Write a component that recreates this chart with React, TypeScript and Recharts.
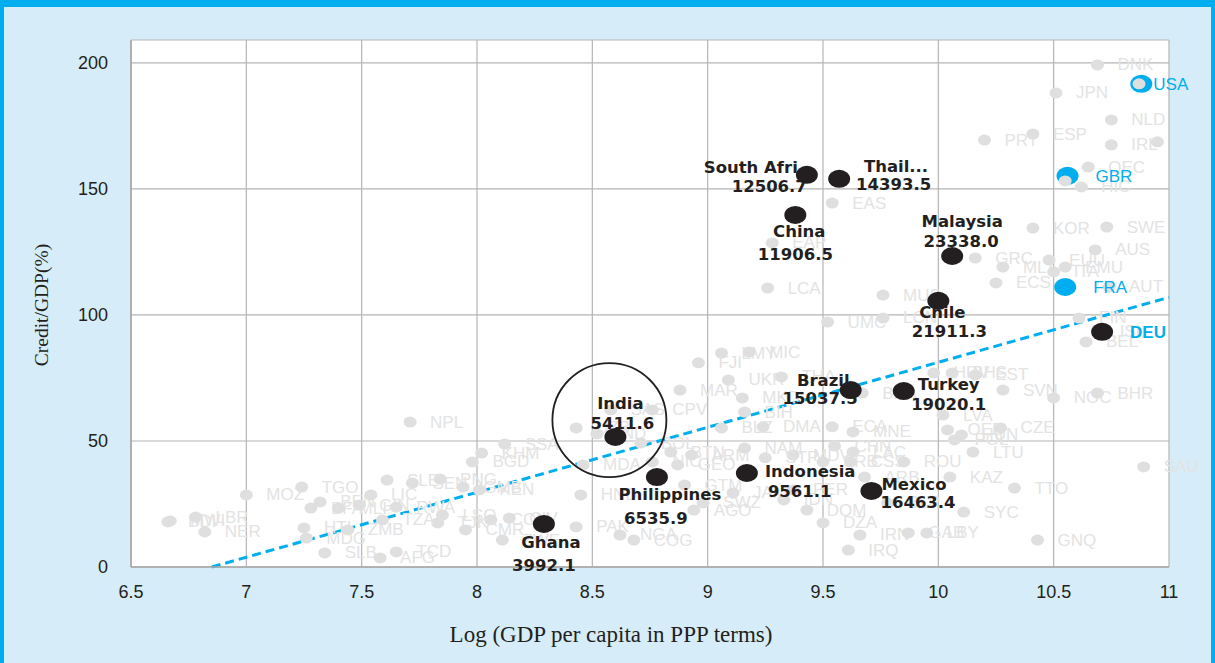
import React from 'react';
import {
  ScatterChart,
  Scatter,
  XAxis,
  YAxis,
  CartesianGrid,
  ReferenceLine,
  ReferenceDot,
} from 'recharts';

// ---------- axes ----------
const xTicks = [6.5, 7, 7.5, 8, 8.5, 9, 9.5, 10, 10.5, 11];
const yTicks = [0, 50, 100, 150, 200];
const X_MIN = 6.5;
const X_MAX = 11;
const Y_MAX = 209.1;

// ---------- grey background countries / aggregates ----------
const grayNames = [
  'BDI', 'MWI', 'LBR', 'NER', 'MOZ', 'TGO', 'BFA', 'BEN', 'MLI', 'HTI',
  'MDG', 'ZMB', 'GIN', 'LIC', 'SLE', 'RWA', 'SEN', 'PNG', 'TJK', 'LSO',
  'TZA', 'SLB', 'AFG', 'TCD', 'KHM', 'BGD', 'SSA', 'GMB', 'KEN', 'COM',
  'CMR', 'CIV', 'ZWE', 'PAK', 'HND', 'UZB', 'MDA', 'IND', 'SAS', 'NGA',
  'COG', 'BOL', 'CPV', 'NIC', 'GEO', 'BTN', 'ARM', 'GTM', 'AGO', 'SWZ',
  'JAM', 'FJI', 'LMY', 'MIC', 'UKR', 'MAR', 'MKD', 'BIH', 'BLZ', 'DMA',
  'THA', 'ECA', 'MNE', 'CHN', 'LAC', 'NAM', 'MDV', 'SRB', 'CSS', 'STP',
  'ARB', 'PER', 'DOM', 'IDN', 'DZA', 'IRN', 'IRQ', 'BLR', 'BRA', 'ROU',
  'HRV', 'BHS', 'EST', 'SVN', 'NOC', 'BHR', 'LVA', 'OED', 'HUN', 'POL',
  'CZE', 'LTU', 'KAZ', 'TTO', 'SYC', 'GAB', 'LBY', 'GNQ', 'SAU', 'DNK',
  'JPN', 'NLD', 'IRL', '', 'PRT', 'ESP', 'OEC', 'HIC', '', '',
  'EAS', 'EAP', 'LCA', 'MUS', 'UMC', 'LCN', 'KOR', 'SWE', 'AUS', 'GRC',
  'MLT', 'EUU', 'ITA', 'EMU', 'ECS', 'AUT', 'FIN', 'ISL', 'BEL', 'NPL',
];
const grayX = [
  6.66, 6.67, 6.78, 6.82, 7.0, 7.24, 7.28, 7.32, 7.4, 7.25,
  7.26, 7.44, 7.49, 7.54, 7.61, 7.65, 7.72, 7.84, 7.83, 7.85,
  7.59, 7.34, 7.58, 7.65, 8.02, 7.98, 8.12, 7.94, 8.01, 8.06,
  7.95, 8.14, 8.11, 8.43, 8.45, 8.43, 8.46, 8.52, 8.58, 8.62,
  8.68, 8.71, 8.76, 8.76, 8.87, 8.84, 8.93, 8.9, 8.94, 8.98,
  9.11, 8.96, 9.06, 9.18, 9.09, 8.88, 9.15, 9.16, 9.06, 9.24,
  9.32, 9.54, 9.63, 9.55, 9.63, 9.16, 9.37, 9.5, 9.62, 9.25,
  9.68, 9.37, 9.43, 9.33, 9.5, 9.66, 9.61, 9.78, 9.67, 9.85,
  9.98, 10.06, 10.16, 10.28, 10.5, 10.69, 10.02, 10.04, 10.1, 10.07,
  10.27, 10.15, 10.05, 10.33, 10.11, 9.87, 9.95, 10.43, 10.89, 10.69,
  10.51, 10.75, 10.75, 10.95, 10.2, 10.41, 10.65, 10.62, 10.55, 10.87,
  9.54, 9.28, 9.26, 9.76, 9.52, 9.76, 10.41, 10.73, 10.68, 10.16,
  10.28, 10.48, 10.5, 10.55, 10.25, 10.74, 10.61, 10.7, 10.64, 7.71,
];
const grayY = [
  17.9, 18.3, 19.8, 13.9, 28.6, 31.7, 23.4, 25.8, 23.4, 15.5,
  11.5, 14.7, 24.6, 28.6, 34.5, 23.8, 33.3, 34.9, 17.5, 20.6,
  18.7, 5.6, 3.6, 6.0, 45.2, 41.7, 48.8, 31.7, 30.6, 18.7,
  14.7, 19.4, 10.7, 15.9, 28.6, 55.2, 40.5, 52.8, 62.3, 12.7,
  10.7, 49.2, 62.3, 41.7, 40.5, 45.6, 44.4, 32.5, 22.6, 25.4,
  29.4, 81.0, 84.9, 85.3, 74.2, 70.2, 67.1, 61.5, 55.2, 55.6,
  75.4, 55.6, 53.6, 48.0, 45.6, 47.2, 44.4, 41.7, 41.7, 43.3,
  35.7, 30.6, 22.6, 26.6, 17.5, 12.7, 6.7, 25.4, 69.0, 41.7,
  77.0, 77.0, 76.2, 70.2, 67.1, 69.0, 60.3, 54.4, 52.4, 50.4,
  55.2, 45.6, 35.7, 31.3, 21.8, 13.5, 13.5, 10.7, 39.7, 199.2,
  188.1, 177.4, 167.5, 168.7, 169.4, 171.8, 158.7, 150.8, 153.2, 191.7,
  144.4, 128.6, 110.7, 107.9, 97.2, 98.8, 134.5, 134.9, 125.8, 122.6,
  119.0, 121.8, 117.1, 119.0, 112.7, 111.1, 98.8, 93.3, 89.3, 57.5,
];

// ---------- highlighted emerging economies ----------
const focusNames = [
  'India', 'Ghana', 'Philippines', 'Indonesia', 'Mexico', 'Brazil',
  'Turkey', 'Chile', 'Malaysia', 'China', 'South Afri', 'Thail...',
];
const focusGdp = [
  '5411.6', '3992.1', '6535.9', '9561.1', '16463.4', '15037.5',
  '19020.1', '21911.3', '23338.0', '11906.5', '12506.7', '14393.5',
];
const focusX = [8.6, 8.29, 8.78, 9.17, 9.71, 9.62, 9.85, 10.0, 10.06, 9.38, 9.43, 9.57];
const focusY = [51.6, 17.1, 35.7, 37.3, 30.2, 70.2, 69.8, 105.6, 123.4, 139.7, 155.6, 154.0];

// ---------- advanced economies (blue labels) ----------
const advNames = ['USA', 'GBR', 'FRA', 'DEU'];
const advX = [10.88, 10.56, 10.55, 10.71];
const advY = [191.7, 155.2, 111.1, 93.3];

// ---------- trend line & India circle ----------
const trendX = [6.85, 11];
const trendY = [0, 107];
const circleX = 8.574;
const circleY = 58.3;

// ---------- styling (not data) ----------
const BLACK = '#231f20';
const BLUE = '#00aeef';
const GREY_DOT = '#dfdfdf';
const GREY_TXT = '#e3e3e3';

// label placement for the highlighted points: [anchor, dx1, dy1, dx2, dy2]
const focusLabelPos: Record<string, [string, number, number, number, number]> = {
  India: ['middle', 5, -33, 7, -13],
  Ghana: ['middle', 7, 19, 0, 42],
  Philippines: ['middle', 13, 17, -1, 41],
  Indonesia: ['start', 18, -1, 21, 19],
  Mexico: ['start', 10, -6, 9, 12],
  Brazil: ['end', -1, -10, 7, 8],
  Turkey: ['middle', 45, -7, 45, 13],
  Chile: ['middle', 4, 12, 11, 31],
  Malaysia: ['middle', 10, -34, 9, -14],
  China: ['middle', 4, 17, 0, 40],
  'South Afri': ['end', -9, -7, 0, 12],
  'Thail...': ['end', 89, -12, 92, 6],
};

const grayData = grayNames.map((name, i) => ({ name, x: grayX[i], y: grayY[i] }));
const focusData = focusNames.map((name, i) => ({ name, gdp: focusGdp[i], x: focusX[i], y: focusY[i] }));
const advData = advNames.map((name, i) => ({ name, x: advX[i], y: advY[i] }));

const GrayShape = (p: any) => {
  const { cx, cy, payload } = p;
  if (cx == null || cy == null) return <g />;
  return (
    <g>
      <ellipse cx={cx} cy={cy} rx={6.5} ry={5.5} fill={GREY_DOT} />
      {payload.name ? (
        <text
          x={cx + 20}
          y={cy}
          dominantBaseline="central"
          fontSize={17}
          fill={GREY_TXT}
          fontFamily="'Liberation Sans', Arial, sans-serif"
        >
          {payload.name}
        </text>
      ) : null}
    </g>
  );
};

const FocusShape = (p: any) => {
  const { cx, cy, payload } = p;
  if (cx == null || cy == null) return <g />;
  const pos = focusLabelPos[payload.name] || ['start', 14, -9, 14, 10];
  const common = {
    fontSize: 16.5,
    fontWeight: 700,
    fill: BLACK,
    fontFamily: "'DejaVu Sans', Verdana, sans-serif",
    dominantBaseline: 'central' as any,
    textAnchor: pos[0] as any,
  };
  return (
    <g>
      <ellipse cx={cx} cy={cy} rx={11} ry={9} fill={BLACK} />
      <text x={cx + pos[1]} y={cy + pos[2]} {...common}>
        {payload.name}
      </text>
      <text x={cx + pos[3]} y={cy + pos[4]} {...common}>
        {payload.gdp}
      </text>
    </g>
  );
};

// blue dots drawn beneath the grey layer (grey markers sit on USA / GBR)
const AdvDot = (p: any) => {
  const { cx, cy, payload } = p;
  if (cx == null || cy == null || payload.name === 'DEU') return <g />;
  return <ellipse cx={cx} cy={cy} rx={11} ry={9} fill={BLUE} />;
};

// labels (and the dark DEU marker) drawn on top
const AdvLabel = (p: any) => {
  const { cx, cy, payload } = p;
  if (cx == null || cy == null) return <g />;
  const isDeu = payload.name === 'DEU';
  const dx = payload.name === 'USA' ? 12 : 28;
  return (
    <g>
      {isDeu ? <ellipse cx={cx} cy={cy} rx={11} ry={9} fill={BLACK} /> : null}
      <text
        x={cx + dx}
        y={cy + 1}
        dominantBaseline="central"
        fontSize={17}
        fontWeight={isDeu ? 700 : 400}
        fill={BLUE}
        fontFamily="'Liberation Sans', Arial, sans-serif"
      >
        {payload.name}
      </text>
    </g>
  );
};

const tickStyle = {
  fill: BLACK,
  fontSize: 18,
  fontFamily: "'Liberation Sans', Arial, sans-serif",
};

export default function App() {
  return (
    <div
      style={{
        position: 'absolute',
        left: 0,
        top: 0,
        width: 1215,
        height: 663,
        background: '#d6edf9',
        overflow: 'hidden',
      }}
    >
      <div style={{ position: 'absolute', left: 0, top: 0, width: 1215, height: 7, background: BLUE }} />
      <div style={{ position: 'absolute', left: 0, top: 0, width: 4, height: 663, background: BLUE }} />
      <div style={{ position: 'absolute', right: 0, top: 0, width: 4, height: 663, background: BLUE }} />

      <div style={{ position: 'absolute', left: 0, top: 0 }}>
        <ScatterChart width={1215} height={663} margin={{ top: 40, right: 46, bottom: 66, left: 0 }}>
          <CartesianGrid stroke="#b5b5b5" strokeWidth={1.2} fill="#ffffff" />
          <XAxis
            type="number"
            dataKey="x"
            domain={[X_MIN, X_MAX]}
            ticks={xTicks}
            interval={0}
            height={30}
            tickSize={0}
            tickMargin={18}
            tickLine={false}
            axisLine={{ stroke: '#a6a6a6', strokeWidth: 1.5 }}
            tick={tickStyle}
          />
          <YAxis
            type="number"
            dataKey="y"
            domain={[0, Y_MAX]}
            ticks={yTicks}
            interval={0}
            width={131}
            tickSize={0}
            tickMargin={23}
            tickLine={false}
            axisLine={{ stroke: '#a6a6a6', strokeWidth: 1.5 }}
            tick={tickStyle}
          />
          <Scatter data={advData} shape={AdvDot} isAnimationActive={false} />
          <Scatter data={grayData} shape={GrayShape} isAnimationActive={false} />
          <Scatter data={focusData} shape={FocusShape} isAnimationActive={false} />
          <Scatter data={advData} shape={AdvLabel} isAnimationActive={false} />
          <ReferenceLine
            segment={[
              { x: trendX[0], y: trendY[0] },
              { x: trendX[1], y: trendY[1] },
            ]}
            stroke={BLUE}
            strokeWidth={3}
            strokeDasharray="9 5"
          />
          <ReferenceDot
            x={circleX}
            y={circleY}
            r={57}
            fill="none"
            stroke={BLACK}
            strokeWidth={1.8}
          />
        </ScatterChart>
      </div>

      <div
        style={{
          position: 'absolute',
          left: 42,
          top: 305,
          transform: 'translate(-50%, -50%) rotate(-90deg)',
          whiteSpace: 'nowrap',
          fontFamily: "'Liberation Serif', 'Times New Roman', serif",
          fontSize: 19.5,
          color: BLACK,
        }}
      >
        Credit/GDP(%)
      </div>
      <div
        style={{
          position: 'absolute',
          left: 611,
          top: 635,
          transform: 'translate(-50%, -50%)',
          whiteSpace: 'nowrap',
          fontFamily: "'Liberation Serif', 'Times New Roman', serif",
          fontSize: 23,
          color: BLACK,
        }}
      >
        Log (GDP per capita in PPP terms)
      </div>
    </div>
  );
}
